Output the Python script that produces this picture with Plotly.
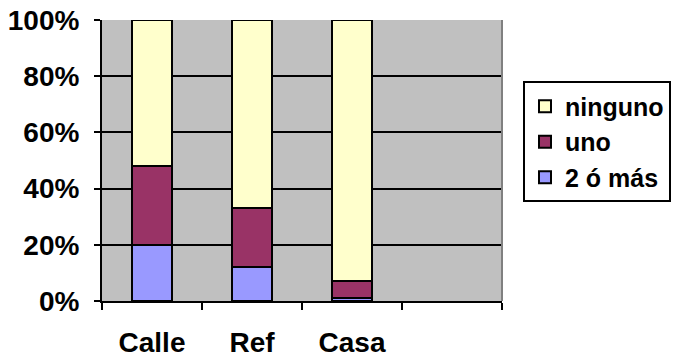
import plotly.graph_objects as go

# Share of cases per location (percent of each column)
categories = ["Calle", "Ref", "Casa"]
dos_o_mas = [20, 12, 1]
uno = [28, 21, 6]
ninguno = [52, 67, 93]

y_ticks = [0, 20, 40, 60, 80, 100]
y_tick_labels = ["0%", "20%", "40%", "60%", "80%", "100%"]

series = [
    ("2 ó más", dos_o_mas, "#9999FF"),
    ("uno", uno, "#993366"),
    ("ninguno", ninguno, "#FFFFCC"),
]

x_pos = list(range(len(categories)))

fig = go.Figure()
for name, vals, color in series:
    fig.add_trace(go.Bar(
        x=x_pos, y=vals, name=name, width=0.4,
        marker=dict(color=color, line=dict(color="black", width=2)),
    ))

font = dict(family="Arial, Liberation Sans, sans-serif", size=28, color="black", weight="bold")
legend_font = dict(family="Arial, Liberation Sans, sans-serif", size=25, color="black", weight="bold")

fig.update_layout(
    width=677, height=358,
    margin=dict(l=102, r=175, t=20, b=57, autoexpand=False),
    barmode="stack",
    bargap=0,
    plot_bgcolor="#C0C0C0",
    paper_bgcolor="white",
    font=font,
    showlegend=True,
    legend=dict(
        traceorder="reversed",
        x=1.0525, xanchor="left",
        y=0.566, yanchor="middle",
        bordercolor="black", borderwidth=2,
        bgcolor="white",
        font=legend_font,
        itemwidth=30,
        tracegroupgap=0,
    ),
    xaxis=dict(
        range=[-0.5, 3.5],
        tickmode="array",
        tickvals=x_pos,
        ticktext=categories,
        ticks="",
        showgrid=False,
        zeroline=False,
        automargin=False,
        showline=True, linecolor="black", linewidth=2,
        ticklabelstandoff=15,
        minor=dict(
            tickmode="array",
            tickvals=[-0.5, 0.5, 1.5, 2.5, 3.5],
            ticks="outside", ticklen=7, tickwidth=2, tickcolor="black",
            showgrid=False,
        ),
    ),
    yaxis=dict(
        range=[0, 100],
        tickmode="array",
        tickvals=y_ticks,
        ticktext=y_tick_labels,
        ticks="outside", ticklen=6, tickwidth=2, tickcolor="black",
        showgrid=True, gridcolor="black", gridwidth=2,
        zeroline=False,
        automargin=False,
        showline=True, linecolor="black", linewidth=2,
        ticklabelstandoff=9,
    ),
)

# light frame on the right edge of the plot area
fig.add_shape(type="line", xref="paper", yref="paper", x0=1, x1=1, y0=0, y1=1,
              line=dict(color="#808080", width=2))

fig.write_html("out.html")
